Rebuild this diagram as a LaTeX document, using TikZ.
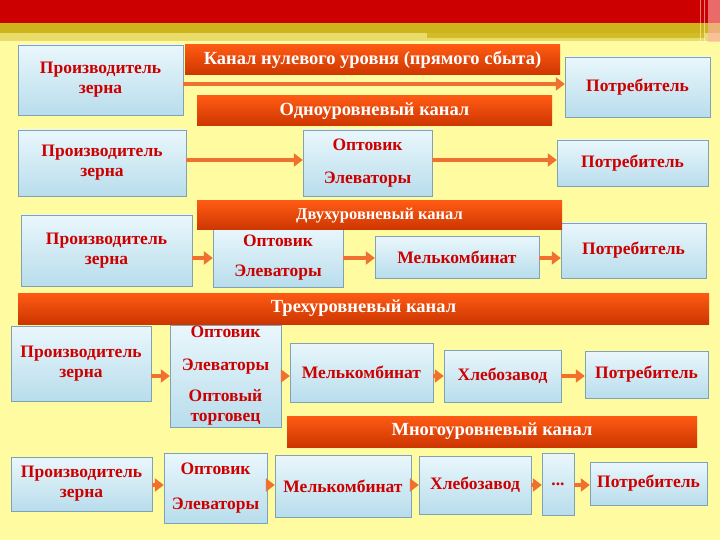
\documentclass[tikz,border=0pt]{standalone}
\usepackage{fontspec}
\setmainfont{Liberation Serif}
\usepackage{xcolor}
\usetikzlibrary{arrows.meta,positioning,calc}
\definecolor{bg}{HTML}{FFFBA0}
\definecolor{topred}{HTML}{CC0000}
\definecolor{gold}{HTML}{CDB41A}
\definecolor{goldlight}{HTML}{E9DC6A}
\definecolor{boxtop}{HTML}{EAF7FC}
\definecolor{boxbot}{HTML}{B8DDEC}
\definecolor{boxline}{HTML}{7FA3B5}
\definecolor{bartop}{HTML}{FF5A14}
\definecolor{barbot}{HTML}{CC3600}
\definecolor{flowc}{HTML}{F07030}
\definecolor{txtred}{HTML}{CC0000}

\begin{document}
\begin{tikzpicture}[x=1pt,y=-1pt,>=Latex]
  \tikzstyle{card}=[draw=boxline,top color=boxtop,bottom color=boxbot,align=center,inner sep=0pt,text=txtred,font=\bfseries\fontsize{17.5}{20}\selectfont]
  \tikzstyle{band}=[top color=bartop,bottom color=barbot,inner sep=0pt,text=white,font=\bfseries\fontsize{18.5}{20}\selectfont]
  \tikzstyle{flow}=[draw=flowc,line width=4pt,-{Triangle[length=9pt,width=13pt,fill=flowc]}]
  % background and title strip
  \useasboundingbox (0,0) rectangle (720,540);
  \fill[bg] (0,0) rectangle (720,540);
  \fill[topred] (0,0) rectangle (720,23);
  \fill[gold] (0,23) rectangle (720,33);
  \fill[goldlight] (0,33) rectangle (720,41);
  \fill[gold!80!goldlight] (427,33) rectangle (705,38);
  \fill[red!30!white,opacity=0.6] (708,0) rectangle (720,42);
  \draw[white,opacity=0.5,line width=1pt] (700,0) -- (700,42) (704,0) -- (704,42);

  % zero-level channel
  \node[card,minimum width=165pt,minimum height=70pt] (p0) at (100.5,80) {Производитель\\зерна};
  \node[band,minimum width=375pt,minimum height=30pt] (t0) at (372.5,60) {Канал нулевого уровня (прямого сбыта)};
  \node[card,minimum width=145pt,minimum height=60pt] (c0) at (637.5,87) {Потребитель};
  \coordinate (row0) at (0,84);
  \draw[flow] (p0.east |- row0) -- (c0.west |- row0);

  % one-level channel
  \node[band,minimum width=355pt,minimum height=30pt] (t1) at (374.5,111) {Одноуровневый канал};
  \node[card,minimum width=168pt,minimum height=66pt] (p1) at (102,163) {Производитель\\зерна};
  \node[card,minimum width=129pt,minimum height=66pt] (w1) at (367.5,163) {Оптовик\\[13pt]Элеваторы};
  \node[card,minimum width=151pt,minimum height=46pt] (c1) at (632.5,163) {Потребитель};
  \coordinate (row1) at (0,160);
  \draw[flow] (p1.east |- row1) -- (w1.west |- row1);
  \draw[flow] (w1.east |- row1) -- (c1.west |- row1);

  % two-level channel
  \node[card,minimum width=171pt,minimum height=71pt] (p2) at (106.5,250.5) {Производитель\\зерна};
  \node[card,minimum width=130pt,minimum height=59pt] (w2) at (278,257.5) {Оптовик\\[10pt]Элеваторы};
  \node[card,minimum width=164pt,minimum height=42pt] (m2) at (457,257) {Мелькомбинат};
  \node[card,minimum width=145pt,minimum height=55pt] (c2) at (633.5,250.5) {Потребитель};
  \node[band,minimum width=365pt,minimum height=29pt,font=\bfseries\fontsize{16.5}{18}\selectfont] (t2) at (379.5,215.5) {Двухуровневый канал};
  \coordinate (row2) at (0,258);
  \draw[flow] (p2.east |- row2) -- (w2.west |- row2);
  \draw[flow] (w2.east |- row2) -- (m2.west |- row2);
  \draw[flow] (m2.east |- row2) -- (c2.west |- row2);

  % three-level channel
  \node[band,minimum width=691pt,minimum height=31pt] (t3) at (363.5,308.5) {Трехуровневый канал};
  \node[card,minimum width=140pt,minimum height=75pt] (p3) at (81,363.5) {Производитель\\зерна};
  \node[card,minimum width=111pt,minimum height=102pt] (w3) at (225.5,376) {Оптовик\\[13pt]Элеваторы\\[11pt]Оптовый\\[0pt]торговец};
  \node[card,minimum width=143pt,minimum height=59pt] (m3) at (361.5,372.5) {Мелькомбинат};
  \node[card,minimum width=117pt,minimum height=52pt] (b3) at (502.5,376) {Хлебозавод};
  \node[card,minimum width=123pt,minimum height=47pt] (c3) at (646.5,374.5) {Потребитель};
  \coordinate (row3) at (0,376);
  \draw[flow] (p3.east |- row3) -- (w3.west |- row3);
  \draw[flow] (w3.east |- row3) -- (m3.west |- row3);
  \draw[flow] (m3.east |- row3) -- (b3.west |- row3);
  \draw[flow] (b3.east |- row3) -- (c3.west |- row3);

  % multi-level channel
  \node[band,minimum width=410pt,minimum height=31pt] (t4) at (492,431.5) {Многоуровневый канал};
  \node[card,minimum width=141pt,minimum height=54pt] (p4) at (81.5,484) {Производитель\\зерна};
  \node[card,minimum width=103pt,minimum height=70pt] (w4) at (215.5,488) {Оптовик\\[15pt]Элеваторы};
  \node[card,minimum width=136pt,minimum height=62pt] (m4) at (343,486) {Мелькомбинат};
  \node[card,minimum width=112pt,minimum height=58pt] (b4) at (475,485) {Хлебозавод};
  \node[card,minimum width=32pt,minimum height=62pt] (d4) at (558,484) {...};
  \node[card,minimum width=117pt,minimum height=43pt] (c4) at (648.5,483.5) {Потребитель};
  \coordinate (row4) at (0,485);
  \draw[flow] (p4.east |- row4) -- (w4.west |- row4);
  \draw[flow] (w4.east |- row4) -- (m4.west |- row4);
  \draw[flow] (m4.east |- row4) -- (b4.west |- row4);
  \draw[flow] (b4.east |- row4) -- (d4.west |- row4);
  \draw[flow] (d4.east |- row4) -- (c4.west |- row4);
\end{tikzpicture}
\end{document}
